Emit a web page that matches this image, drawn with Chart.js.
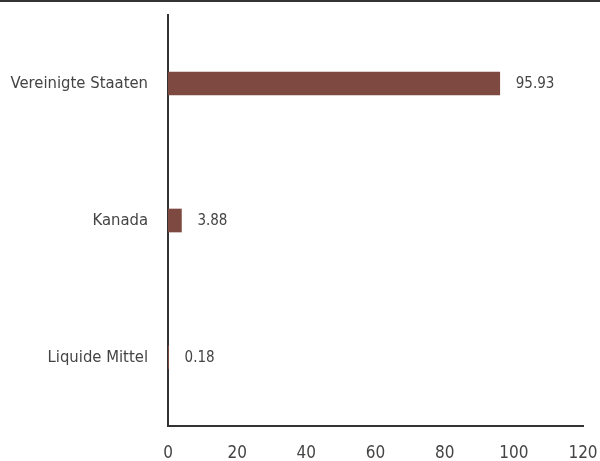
<!DOCTYPE html>
<html>
<head>
<meta charset="utf-8">
<script src="https://cdn.jsdelivr.net/npm/chart.js@4"></script>
<style>
  html, body { margin: 0; padding: 0; background: #fff; }
  #wrap { width: 600px; height: 459px; border-top: 2px solid #333; }
</style>
</head>
<body>
<div id="wrap"><canvas id="chart"></canvas></div>
<script>
const categories = ['Vereinigte Staaten', 'Kanada', 'Liquide Mittel'];
const values = [95.93, 3.88, 0.18];
const xTicks = [0, 20, 40, 60, 80, 100, 120];

// pick the first narrow font that is actually installed
function pickFont(list) {
  const c = document.createElement('canvas').getContext('2d');
  const probe = 'Vereinigte Staaten 0123456789';
  c.font = '20px monospace';
  const base = c.measureText(probe).width;
  for (const f of list) {
    c.font = '20px "' + f + '", monospace';
    if (c.measureText(probe).width !== base) return '"' + f + '"';
  }
  return 'sans-serif';
}
const FONT = pickFont(['Liberation Sans Narrow', 'DejaVu Sans Condensed', 'Roboto Condensed']);

// Draws the value next to the end of each bar
const valueLabels = {
  id: 'valueLabels',
  afterDatasetsDraw(chart) {
    const ctx = chart.ctx;
    const meta = chart.getDatasetMeta(0);
    ctx.save();
    ctx.font = '15px ' + FONT;
    ctx.fillStyle = '#444';
    ctx.textAlign = 'left';
    ctx.textBaseline = 'middle';
    meta.data.forEach((bar, i) => {
      ctx.fillText(values[i].toFixed(2), bar.x + 16, bar.y + 1);
    });
    ctx.restore();
  }
};

const ctx = document.getElementById('chart').getContext('2d');
new Chart(ctx, {
  type: 'bar',
  data: {
    labels: categories,
    datasets: [{
      data: values,
      backgroundColor: '#7d4940',
      barThickness: 23
    }]
  },
  options: {
    indexAxis: 'y',
    responsive: true,
    maintainAspectRatio: false,
    animation: false,
    layout: { padding: { top: 13, right: 17, left: 0, bottom: 0 } },
    plugins: { legend: { display: false }, tooltip: { enabled: false } },
    scales: {
      x: {
        min: 0,
        max: 120,
        afterBuildTicks: (scale) => { scale.ticks = xTicks.map(v => ({ value: v })); },
        grid: { display: false, drawTicks: false },
        border: { display: true, color: '#333', width: 2 },
        ticks: { color: '#444', font: { family: FONT, size: 17 }, padding: 17 },
        afterFit: (scale) => { scale.height = 35; scale.paddingLeft = 0; scale.paddingRight = 0; }
      },
      y: {
        grid: { display: false, drawTicks: false },
        border: { display: true, color: '#333', width: 2 },
        ticks: { color: '#444', font: { family: FONT, size: 16.5 }, padding: 20 },
        afterFit: (scale) => { scale.width = 168; scale.paddingTop = 0; scale.paddingBottom = 0; }
      }
    }
  },
  plugins: [valueLabels]
});
</script>
</body>
</html>
